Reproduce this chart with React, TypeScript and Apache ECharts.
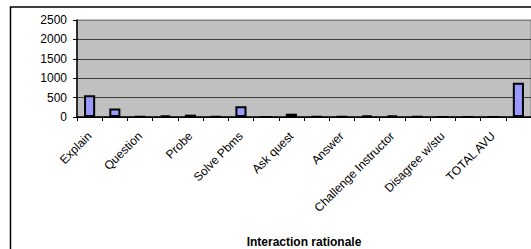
import React, { useEffect, useRef } from "react";
import * as echarts from "echarts";

// 18 category slots; only every other one is labelled on the axis
const categories = [
  "Explain", "Explain (2)", "Question", "Question (2)", "Probe", "Probe (2)",
  "Solve Pbms", "Solve Pbms (2)", "Ask quest", "Ask quest (2)", "Answer", "Answer (2)",
  "Challenge Instructor", "Challenge Instructor (2)", "Disagree w/stu", "Disagree w/stu (2)",
  "TOTAL AVU", "TOTAL AVU (2)",
];
const values = [560, 220, 10, 40, 60, 15, 280, 0, 85, 15, 10, 40, 40, 15, 0, 0, 0, 880];
const yTicks = { min: 0, max: 2500, interval: 500 };
const axisTitle = "Interaction rationale";

export default function App() {
  const ref = useRef<HTMLDivElement>(null);
  useEffect(() => {
    document.body.style.margin = "0";
    const chart = echarts.init(ref.current!, null, { renderer: "svg" });
    const font = "Arial, 'Liberation Sans', sans-serif";
    chart.setOption({
      animation: false,
      backgroundColor: "#fff",
      grid: { left: 77, right: -12, top: 20, bottom: 128, containLabel: false,
        show: true, backgroundColor: "#C0C0C0", borderColor: "#808080", borderWidth: 1 },
      xAxis: {
        type: "category",
        data: categories,
        name: axisTitle,
        nameLocation: "middle",
        nameGap: 119,
        nameTextStyle: { fontFamily: font, fontSize: 12, fontWeight: "bold", color: "#000" },
        axisLine: { lineStyle: { color: "#000", width: 1.5 } },
        axisTick: { show: true, interval: 0, length: 4, lineStyle: { color: "#000" } },
        axisLabel: { interval: 1, rotate: 45, margin: 17, fontFamily: font, fontSize: 12, color: "#000" },
        splitLine: { show: false },
      },
      yAxis: {
        type: "value",
        min: yTicks.min,
        max: yTicks.max,
        interval: yTicks.interval,
        axisLine: { show: true, lineStyle: { color: "#000", width: 1.5 } },
        axisTick: { show: true, length: 4, lineStyle: { color: "#000" } },
        axisLabel: { margin: 10, fontFamily: font, fontSize: 12, color: "#000", formatter: (v: number) => String(v) },
        splitLine: { show: true, lineStyle: { color: ["#000", "#404040", "#404040", "#404040", "#404040", "#808080"], width: 1.2 } },
      },
      series: [
        {
          type: "bar",
          data: values,
          barWidth: "44%",
          itemStyle: { color: "#9999FF", borderColor: "#000", borderWidth: 2 },
        },
      ],
      graphic: [
        {
          type: "rect",
          shape: { x: 10.5, y: 7, width: 700, height: 400 },
          style: { fill: "none", stroke: "#000", lineWidth: 1.5 },
          silent: true,
          z: 100,
        },
      ],
    });
    return () => chart.dispose();
  }, []);
  return <div ref={ref} style={{ width: 531, height: 249 }} />;
}
